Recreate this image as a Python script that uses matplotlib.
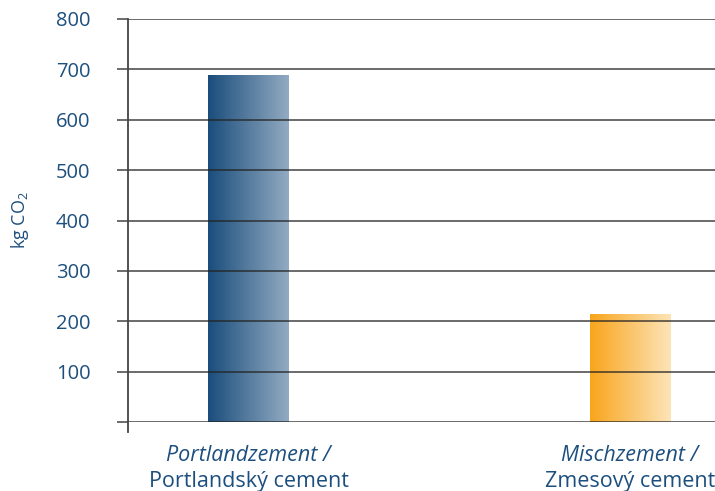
import matplotlib
matplotlib.use('Agg')
import numpy as np
import matplotlib.pyplot as plt
from matplotlib.colors import LinearSegmentedColormap
from matplotlib.patches import Rectangle

# chart data
categories_de = ["Portlandzement /", "Mischzement /"]
categories_sk = ["Portlandský cement", "Zmesový cement"]
co2_values = [688, 214]
y_ticks = [0, 100, 200, 300, 400, 500, 600, 700, 800]
y_tick_labels = ["", "100", "200", "300", "400", "500", "600", "700", "800"]

text_color = "#1d4f7e"
bar_gradients = [("#1b4d7c", "#92abc2"), ("#f8a51c", "#fde4b8")]

plt.rcParams['font.family'] = ['Open Sans', 'DejaVu Sans']
plt.rcParams['mathtext.default'] = 'regular'

fig = plt.figure(figsize=(7.15, 4.91), dpi=100)
ax = fig.add_axes([128 / 715, 1 - 422 / 491, 587 / 715, 403 / 491])

x = np.arange(len(co2_values))
bar_width = 0.212

# gradient-filled bars: a horizontal colour ramp clipped to each bar
ramp = np.linspace(0, 1, 256).reshape(1, -1)
for xi, val, (c0, c1) in zip(x, co2_values, bar_gradients):
    cmap = LinearSegmentedColormap.from_list("bar", [c0, c1])
    left = xi - bar_width / 2
    im = ax.imshow(ramp, cmap=cmap, aspect='auto',
                   extent=[left, left + bar_width, 0, val], zorder=1)
    rect = Rectangle((left, 0), bar_width, val, transform=ax.transData,
                     facecolor='none', edgecolor='none')
    ax.add_patch(rect)
    im.set_clip_path(rect)

ax.set_xlim(-0.316, 1.223)
ax.set_ylim(0, 800)

# horizontal grid drawn over the bars
for yv in y_ticks:
    ax.axhline(yv, color='#222222', lw=1.1, alpha=0.85, zorder=3)

for side in ['top', 'right', 'bottom', 'left']:
    ax.spines[side].set_visible(False)
ax.axvline(-0.316, ymin=-0.025, ymax=1.0, color='#444444', lw=1.3,
           clip_on=False, zorder=4)

ax.set_yticks(y_ticks)
ax.set_yticklabels(y_tick_labels)
ax.tick_params(axis='y', length=8, width=1.1, color='#444444',
               labelsize=14.5, labelcolor=text_color, pad=19)
ax.set_xticks([])

ax.set_ylabel("kg CO$_2$", color=text_color, fontsize=13, labelpad=18)

# two-line category labels under the bars
for xi, de, sk in zip(x, categories_de, categories_sk):
    ax.text(xi, -66, de, ha='center', va='center', fontsize=15.5,
            style='italic', color=text_color, transform=ax.transData,
            clip_on=False)
    ax.text(xi, -118, sk, ha='center', va='center', fontsize=15.5,
            color=text_color, transform=ax.transData, clip_on=False)

fig.savefig("out.png", dpi=100)
